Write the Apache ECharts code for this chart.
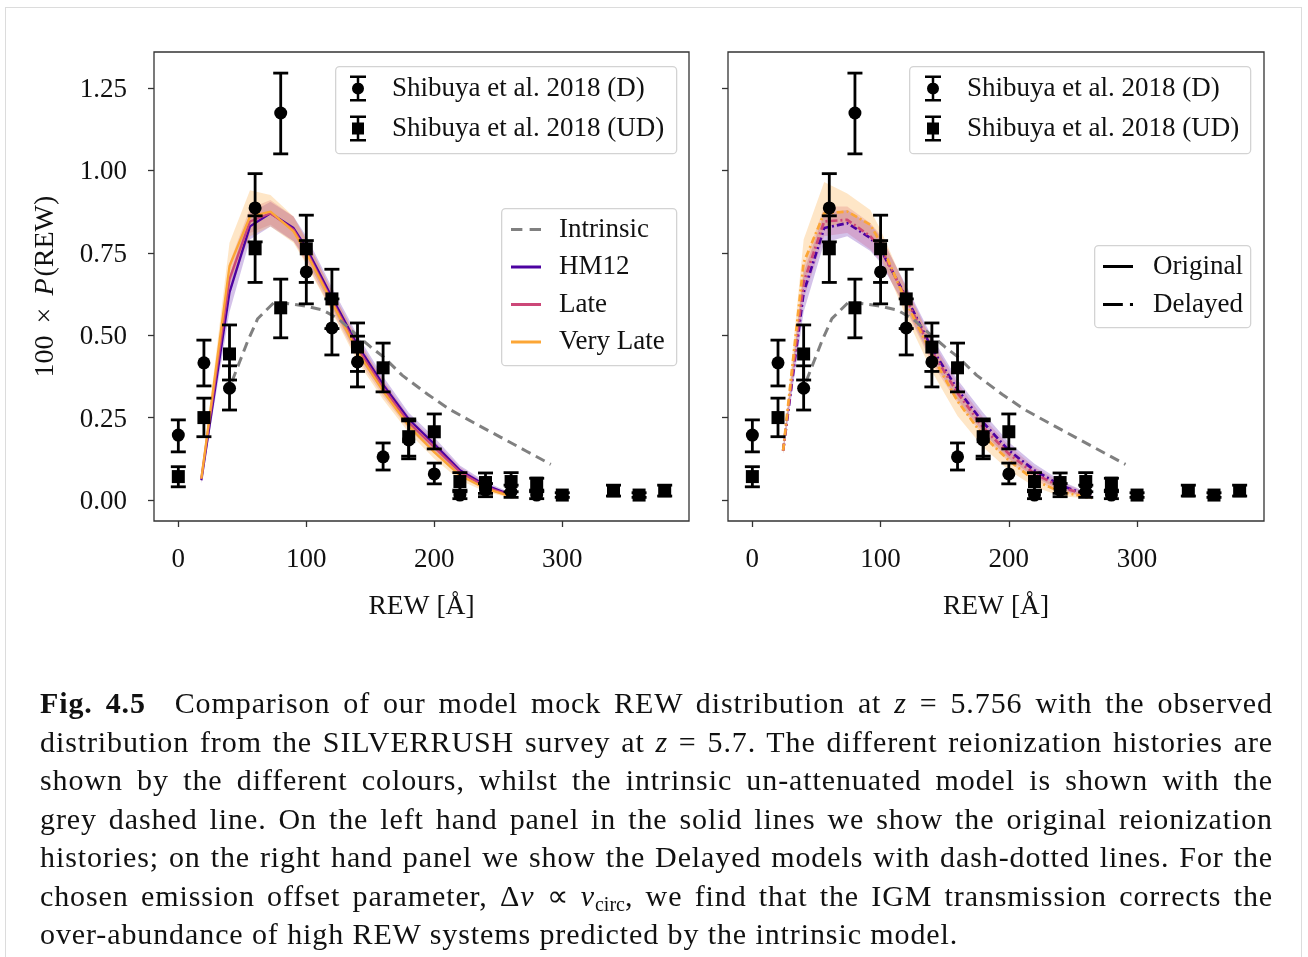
<!DOCTYPE html>
<html><head><meta charset="utf-8">
<script src="https://cdn.jsdelivr.net/npm/echarts@6/dist/echarts.min.js"></script>
<style>
html,body{margin:0;padding:0;background:#fff;width:1308px;height:957px;overflow:hidden;}
#chart{position:absolute;left:0;top:0;width:1308px;height:957px;}
#frame{position:absolute;left:5px;top:7px;width:1297px;height:1000px;border:1px solid #dcdcdc;box-sizing:border-box;pointer-events:none;}
#caption{position:absolute;left:40px;top:684px;width:1233px;font-family:'Liberation Serif',serif;font-size:30px;line-height:38.5px;color:#111;letter-spacing:0.9px;}
#caption .l{text-align:justify;text-align-last:justify;}
#caption .last{text-align:left;}
#caption sub{font-size:20px;line-height:0;vertical-align:-5px;letter-spacing:0;}
</style></head>
<body>
<div id="frame"></div>
<div id="chart"></div>
<div id="caption">
<div class="l"><b>Fig. 4.5</b>&ensp; Comparison of our model mock REW distribution at <i>z</i> = 5.756 with the observed</div>
<div class="l">distribution from the SILVERRUSH survey at <i>z</i> = 5.7. The different reionization histories are</div>
<div class="l">shown by the different colours, whilst the intrinsic un-attenuated model is shown with the</div>
<div class="l">grey dashed line. On the left hand panel in the solid lines we show the original reionization</div>
<div class="l">histories; on the right hand panel we show the Delayed models with dash-dotted lines. For the</div>
<div class="l">chosen emission offset parameter, Δ<i>v</i> ∝ <i>v</i><sub>circ</sub>, we find that the IGM transmission corrects the</div>
<div class="last">over-abundance of high REW systems predicted by the intrinsic model.</div>
</div>
<script>
// ---------- data ----------
const xTicks = [0, 100, 200, 300];
const yTicks = [0, 0.25, 0.5, 0.75, 1.0, 1.25];

// Shibuya et al. 2018 (D) - circles
const dX  = [0, 20, 40, 60, 80, 100, 120, 140, 160, 180, 200, 220, 240, 260, 280];
const dY  = [0.197, 0.416, 0.339, 0.886, 1.174, 0.692, 0.522, 0.419, 0.131, 0.182, 0.079, 0.015, 0.030, 0.025, 0.015];
const dLo = [0.146, 0.346, 0.273, 0.783, 1.050, 0.595, 0.440, 0.343, 0.091, 0.125, 0.049, 0.004, 0.010, 0.008, 0.004];
const dHi = [0.243, 0.485, 0.407, 0.990, 1.295, 0.787, 0.610, 0.497, 0.173, 0.240, 0.112, 0.030, 0.050, 0.045, 0.030];

// Shibuya et al. 2018 (UD) - squares
const uX  = [0, 20, 40, 60, 80, 100, 120, 140, 160, 180, 200, 220, 240, 260, 280, 300, 340, 360, 380];
const uY  = [0.071, 0.250, 0.443, 0.762, 0.583, 0.762, 0.610, 0.464, 0.401, 0.192, 0.207, 0.056, 0.053, 0.056, 0.051, 0.015, 0.028, 0.015, 0.028];
const uLo = [0.040, 0.192, 0.364, 0.660, 0.492, 0.660, 0.520, 0.390, 0.328, 0.133, 0.155, 0.025, 0.020, 0.025, 0.025, 0.008, 0.012, 0.008, 0.012];
const uHi = [0.101, 0.309, 0.531, 0.862, 0.670, 0.864, 0.700, 0.537, 0.476, 0.246, 0.261, 0.083, 0.082, 0.083, 0.066, 0.022, 0.045, 0.022, 0.045];

// Intrinsic model
const intrX = [42, 48, 54, 62, 75, 88, 100, 113, 125, 135, 150, 160, 175, 195, 212, 232, 252, 272, 291];
const intrY = [0.36, 0.42, 0.48, 0.55, 0.60, 0.595, 0.588, 0.576, 0.55, 0.515, 0.465, 0.435, 0.378, 0.32, 0.275, 0.232, 0.19, 0.148, 0.108];

// Left panel (Original)
const mXL = [18, 40, 56, 72, 90, 100, 120, 140, 160, 180, 200, 220, 240, 262];
const hm12L   = [0.060, 0.63, 0.830, 0.870, 0.825, 0.765, 0.615, 0.470, 0.350, 0.245, 0.170, 0.090, 0.045, 0.012];
const hm12LLo = [0.050, 0.57, 0.790, 0.830, 0.785, 0.730, 0.585, 0.440, 0.325, 0.225, 0.150, 0.075, 0.035, 0.006];
const hm12LHi = [0.070, 0.68, 0.870, 0.905, 0.860, 0.800, 0.645, 0.500, 0.375, 0.265, 0.190, 0.105, 0.055, 0.018];
const lateL   = [0.065, 0.67, 0.845, 0.870, 0.820, 0.755, 0.605, 0.460, 0.340, 0.235, 0.160, 0.085, 0.040, 0.010];
const lateLLo = [0.055, 0.62, 0.810, 0.835, 0.785, 0.720, 0.575, 0.430, 0.315, 0.215, 0.140, 0.070, 0.030, 0.005];
const lateLHi = [0.075, 0.72, 0.885, 0.910, 0.860, 0.790, 0.635, 0.490, 0.365, 0.255, 0.180, 0.100, 0.050, 0.015];
const vlL     = [0.065, 0.71, 0.860, 0.875, 0.815, 0.750, 0.600, 0.450, 0.330, 0.225, 0.145, 0.075, 0.035, 0.008];
const vlLLo   = [0.055, 0.66, 0.800, 0.830, 0.780, 0.715, 0.570, 0.420, 0.305, 0.205, 0.125, 0.060, 0.025, 0.004];
const vlLHi   = [0.075, 0.78, 0.940, 0.925, 0.860, 0.790, 0.635, 0.485, 0.360, 0.250, 0.170, 0.090, 0.045, 0.013];

// Right panel (Delayed)
const mXR = [24, 40, 56, 74, 92, 100, 120, 140, 160, 180, 200, 220, 240, 265];
const hm12R   = [0.150, 0.63, 0.825, 0.840, 0.795, 0.760, 0.615, 0.460, 0.335, 0.235, 0.150, 0.090, 0.045, 0.010];
const hm12RLo = [0.140, 0.57, 0.780, 0.800, 0.755, 0.720, 0.580, 0.425, 0.305, 0.205, 0.125, 0.070, 0.030, 0.005];
const hm12RHi = [0.160, 0.69, 0.870, 0.880, 0.835, 0.800, 0.650, 0.495, 0.365, 0.265, 0.175, 0.110, 0.060, 0.016];
const lateR   = [0.150, 0.66, 0.845, 0.850, 0.800, 0.765, 0.610, 0.450, 0.325, 0.220, 0.140, 0.080, 0.040, 0.010];
const lateRLo = [0.140, 0.61, 0.800, 0.810, 0.760, 0.725, 0.575, 0.415, 0.295, 0.195, 0.115, 0.060, 0.025, 0.005];
const lateRHi = [0.160, 0.71, 0.890, 0.890, 0.840, 0.805, 0.645, 0.485, 0.355, 0.250, 0.165, 0.100, 0.055, 0.015];
const vlR     = [0.150, 0.72, 0.870, 0.875, 0.835, 0.780, 0.600, 0.440, 0.300, 0.195, 0.120, 0.060, 0.025, 0.006];
const vlRLo   = [0.140, 0.66, 0.830, 0.840, 0.800, 0.740, 0.555, 0.390, 0.255, 0.160, 0.090, 0.040, 0.012, 0.003];
const vlRHi   = [0.160, 0.79, 0.965, 0.930, 0.880, 0.820, 0.640, 0.480, 0.335, 0.230, 0.150, 0.080, 0.040, 0.010];

// ---------- style ----------
const FONT = 'Liberation Serif';
const C_HM12 = '#4c02a1', C_LATE = '#cc4778', C_VL = '#fca636', C_INTR = '#808080';
const B_HM12 = 'rgba(76,2,161,0.24)', B_LATE = 'rgba(204,71,120,0.24)', B_VL = 'rgba(252,166,54,0.28)';
const DASHDOT = [7, 3, 2, 3];

const ICON_D  = 'path://M0,0H16V2.5H0Z M6.75,0H9.25V26H6.75Z M0,23.5H16V26H0Z M2,13A6,6,0,1,1,14,13A6,6,0,1,1,2,13Z';
const ICON_UD = 'path://M0,0H16V2.5H0Z M6.75,0H9.25V26H6.75Z M0,23.5H16V26H0Z M2,7H14V19H2Z';
const ICON_SOLID   = 'path://M0,0H30V3H0Z';
const ICON_DASHED  = 'path://M0,0H11V3H0Z M18,0H29V3H18Z';
const ICON_DASHDOT = 'path://M0,0H19.5V3H0Z M26.5,0H29.5V3H26.5Z';

function pairs(xs, ys) { return xs.map((x, i) => [x, ys[i]]); }

function bandSeries(xs, lo, hi, fill, gi) {
  return {
    type: 'custom', name: 'band', xAxisIndex: gi, yAxisIndex: gi, z: 1, silent: true, clip: true,
    data: xs.map((x, i) => [x, lo[i], hi[i]]),
    encode: { x: 0, y: [1, 2] },
    renderItem: function (params, api) {
      if (params.dataIndex !== 0) return null;
      const pts = [];
      for (let i = 0; i < xs.length; i++) pts.push(api.coord([xs[i], hi[i]]));
      for (let i = xs.length - 1; i >= 0; i--) pts.push(api.coord([xs[i], lo[i]]));
      return { type: 'polygon', shape: { points: pts }, style: { fill: fill } };
    }
  };
}

function lineSeries(name, xs, ys, color, gi, type, width) {
  return {
    type: 'line', name: name, xAxisIndex: gi, yAxisIndex: gi, z: 3, silent: true,
    data: pairs(xs, ys), symbol: 'none', showSymbol: false,
    itemStyle: { color: color },
    lineStyle: { color: color, width: width || 2.3, type: type || 'solid' }
  };
}

function errSeries(xs, lo, hi, gi) {
  return {
    type: 'custom', name: 'errorbar', xAxisIndex: gi, yAxisIndex: gi, z: 5, silent: true,
    data: xs.map((x, i) => [x, lo[i], hi[i]]),
    encode: { x: 0, y: [1, 2] },
    renderItem: function (params, api) {
      const x = api.value(0), lo = api.value(1), hi = api.value(2);
      const a = api.coord([x, lo]), b = api.coord([x, hi]);
      const cw = 7.5, st = { stroke: '#000', lineWidth: 2.8 };
      return { type: 'group', children: [
        { type: 'line', shape: { x1: a[0], y1: a[1], x2: b[0], y2: b[1] }, style: st },
        { type: 'line', shape: { x1: a[0] - cw, y1: a[1], x2: a[0] + cw, y2: a[1] }, style: st },
        { type: 'line', shape: { x1: b[0] - cw, y1: b[1], x2: b[0] + cw, y2: b[1] }, style: st }
      ]};
    }
  };
}

function pointSeries(name, xs, ys, symbol, gi) {
  return {
    type: 'scatter', name: name, xAxisIndex: gi, yAxisIndex: gi, z: 6, silent: true,
    symbol: symbol, symbolSize: 13, itemStyle: { color: '#000', opacity: 1 },
    data: pairs(xs, ys)
  };
}

function xAxisCfg(gi) {
  return {
    type: 'value', gridIndex: gi, min: -19, max: 399,
    name: 'REW [Å]', nameLocation: 'middle', nameGap: 72,
    nameTextStyle: { fontFamily: FONT, fontSize: 27.5, color: '#111' },
    axisLine: { show: false, onZero: false }, splitLine: { show: false },
    axisTick: { show: true, length: 6, lineStyle: { color: '#333', width: 1.3 }, customValues: xTicks },
    axisLabel: { show: true, margin: 25, fontFamily: FONT, fontSize: 27, color: '#111', customValues: xTicks }
  };
}
function yAxisCfg(gi, labels) {
  const cfg = {
    type: 'value', gridIndex: gi, min: -0.0637, max: 1.359,
    axisLine: { show: false, onZero: false }, splitLine: { show: false },
    axisTick: { show: true, length: 6, lineStyle: { color: '#333', width: 1.3 }, customValues: yTicks },
    axisLabel: { show: labels, margin: 27, fontFamily: FONT, fontSize: 27, color: '#111', customValues: yTicks,
      formatter: v => '{a|' + Number(v).toFixed(2) + '}',
      rich: { a: { fontFamily: FONT, fontSize: 27, color: '#111', padding: [4, 0, 0, 0] } } }
  };
  if (labels) {
    cfg.name = '100{s|×}{i|P}(REW)';
    cfg.nameLocation = 'middle';
    cfg.nameGap = 94;
    cfg.nameTextStyle = { fontFamily: FONT, fontSize: 28, color: '#111',
      rich: {
        i: { fontFamily: FONT, fontSize: 28, fontStyle: 'italic', color: '#111', padding: [0, 2, 0, 0] },
        s: { fontFamily: FONT, fontSize: 28, color: '#111', padding: [0, 12, 0, 12] }
      } };
  }
  return cfg;
}

const legText = (pad) => ({ fontFamily: FONT, fontSize: 27, color: '#111', padding: [0, 0, 0, pad] });
const boxStyle = { fill: 'rgba(255,255,255,0.85)', stroke: '#d3d3d3', lineWidth: 1.3 };

const chart = echarts.init(document.getElementById('chart'), null, { renderer: 'canvas' });
chart.setOption({
  animation: false,
  backgroundColor: 'transparent',
  grid: [
    { left: 154, top: 52, width: 535, height: 469, show: true, borderColor: '#333', borderWidth: 1.3, backgroundColor: 'transparent' },
    { left: 728, top: 52, width: 536, height: 469, show: true, borderColor: '#333', borderWidth: 1.3, backgroundColor: 'transparent' }
  ],
  xAxis: [xAxisCfg(0), xAxisCfg(1)],
  yAxis: [yAxisCfg(0, true), yAxisCfg(1, false)],
  graphic: [
    { type: 'rect', left: 335, top: 66, z: 3, shape: { width: 341, height: 87, r: 4 }, style: boxStyle },
    { type: 'rect', left: 501, top: 208, z: 3, shape: { width: 175, height: 157, r: 4 }, style: boxStyle },
    { type: 'rect', left: 909, top: 66, z: 3, shape: { width: 341, height: 87, r: 4 }, style: boxStyle },
    { type: 'rect', left: 1094, top: 245, z: 3, shape: { width: 156, height: 82, r: 4 }, style: boxStyle }
  ],
  legend: [
    { left: 350, top: 75, orient: 'vertical', padding: 0, itemWidth: 16, itemHeight: 30, itemGap: 13, selectedMode: false, z: 5,
      textStyle: legText(21),
      data: [{ name: 'Shibuya et al. 2018 (D)', icon: ICON_D }, { name: 'Shibuya et al. 2018 (UD)', icon: ICON_UD }] },
    { left: 925, top: 75, orient: 'vertical', padding: 0, itemWidth: 16, itemHeight: 30, itemGap: 13, selectedMode: false, z: 5,
      textStyle: legText(21),
      data: [{ name: 'Shibuya et al. 2018 (D)', icon: ICON_D }, { name: 'Shibuya et al. 2018 (UD)', icon: ICON_UD }] },
    { left: 511, top: 216, orient: 'vertical', padding: 0, itemWidth: 30, itemHeight: 30, itemGap: 10.5, selectedMode: false, z: 5,
      textStyle: legText(13),
      data: [{ name: 'Intrinsic', icon: ICON_DASHED }, { name: 'HM12', icon: ICON_SOLID },
             { name: 'Late', icon: ICON_SOLID }, { name: 'Very Late', icon: ICON_SOLID }] },
    { left: 1103, top: 253, orient: 'vertical', padding: 0, itemWidth: 30, itemHeight: 30, itemGap: 11, selectedMode: false, z: 5,
      textStyle: legText(15),
      data: [{ name: 'Original', icon: ICON_SOLID }, { name: 'Delayed', icon: ICON_DASHDOT }] }
  ],
  series: [
    // left panel
    bandSeries(mXL, hm12LLo, hm12LHi, B_HM12, 0),
    bandSeries(mXL, lateLLo, lateLHi, B_LATE, 0),
    bandSeries(mXL, vlLLo, vlLHi, B_VL, 0),
    lineSeries('HM12', mXL, hm12L, C_HM12, 0),
    lineSeries('Late', mXL, lateL, C_LATE, 0),
    lineSeries('Very Late', mXL, vlL, C_VL, 0),
    lineSeries('Intrinsic', intrX, intrY, C_INTR, 0, [10, 6], 3),
    // right panel
    bandSeries(mXR, hm12RLo, hm12RHi, B_HM12, 1),
    bandSeries(mXR, lateRLo, lateRHi, B_LATE, 1),
    bandSeries(mXR, vlRLo, vlRHi, B_VL, 1),
    lineSeries('HM12 (Delayed)', mXR, hm12R, C_HM12, 1, DASHDOT, 2.7),
    lineSeries('Late (Delayed)', mXR, lateR, C_LATE, 1, DASHDOT, 2.7),
    lineSeries('Very Late (Delayed)', mXR, vlR, C_VL, 1, DASHDOT, 2.7),
    lineSeries('Intrinsic (right)', intrX, intrY, C_INTR, 1, [10, 6], 3),
    { type: 'line', name: 'Original', xAxisIndex: 1, yAxisIndex: 1, data: [], symbol: 'none',
      itemStyle: { color: '#000' }, lineStyle: { color: '#000', width: 2.6, type: 'solid' } },
    { type: 'line', name: 'Delayed', xAxisIndex: 1, yAxisIndex: 1, data: [], symbol: 'none',
      itemStyle: { color: '#000' }, lineStyle: { color: '#000', width: 2.6, type: [13, 5, 2.5, 5] } },
    // observations
    pointSeries('Shibuya et al. 2018 (D)', dX, dY, 'circle', 0),
    pointSeries('Shibuya et al. 2018 (UD)', uX, uY, 'rect', 0),
    errSeries(dX, dLo, dHi, 0),
    errSeries(uX, uLo, uHi, 0),
    pointSeries('Shibuya et al. 2018 (D)', dX, dY, 'circle', 1),
    pointSeries('Shibuya et al. 2018 (UD)', uX, uY, 'rect', 1),
    errSeries(dX, dLo, dHi, 1),
    errSeries(uX, uLo, uHi, 1)
  ]
});
</script>
</body></html>
